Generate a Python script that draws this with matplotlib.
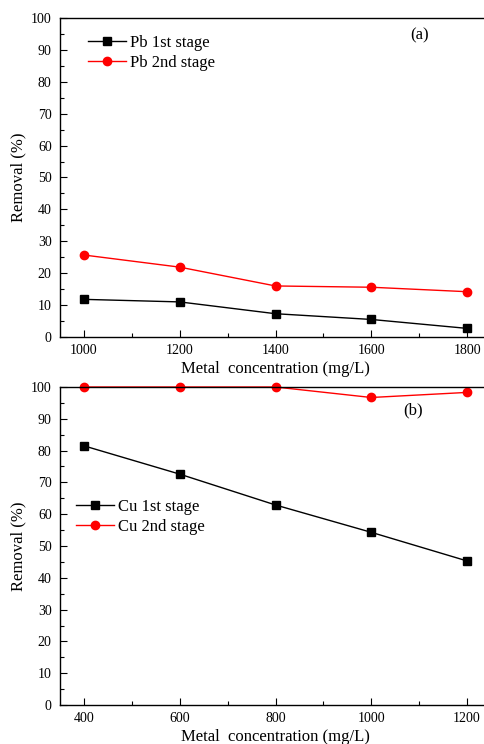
import matplotlib.pyplot as plt
from matplotlib.ticker import MultipleLocator

plt.rcParams['font.family'] = ['Liberation Serif', 'DejaVu Serif']

# panel (a) - Pb
pb_conc = [1000, 1200, 1400, 1600, 1800]
pb_stage1 = [11.8, 11.0, 7.3, 5.5, 2.7]
pb_stage2 = [25.7, 21.9, 16.0, 15.6, 14.2]

# panel (b) - Cu
cu_conc = [400, 600, 800, 1000, 1200]
cu_stage1 = [81.5, 72.6, 62.9, 54.3, 45.3]
cu_stage2 = [100.0, 100.0, 100.0, 96.7, 98.3]

W, H = 484, 744
fig = plt.figure(figsize=(W / 100, H / 100), dpi=100)

def px_axes(left, top, right, bottom):
    return fig.add_axes([left / W, 1 - bottom / H, (right - left) / W, (bottom - top) / H])

ax1 = px_axes(60, 18, 491, 337)
ax2 = px_axes(60, 387, 491, 705)

def style(ax, xlim, xmajor):
    ax.set_xlim(*xlim)
    ax.set_ylim(0, 100)
    ax.xaxis.set_major_locator(MultipleLocator(xmajor))
    ax.xaxis.set_minor_locator(MultipleLocator(xmajor / 2))
    ax.yaxis.set_major_locator(MultipleLocator(10))
    ax.yaxis.set_minor_locator(MultipleLocator(5))
    ax.tick_params(which='major', direction='in', length=5, width=0.8, labelsize=10)
    ax.tick_params(which='minor', direction='in', length=3, width=0.8)
    ax.tick_params(axis='x', pad=5)
    ax.tick_params(axis='y', pad=6)
    for s in ax.spines.values():
        s.set_linewidth(1.0)
    ax.set_xlabel('Metal  concentration (mg/L)', fontsize=12, labelpad=3)
    ax.set_ylabel('Removal (%)', fontsize=12)
    ax.yaxis.set_label_coords(-0.079, 0.5)

ax1.plot(pb_conc, pb_stage1, color='black', marker='s', markersize=5.5, lw=1, label='Pb 1st stage')
ax1.plot(pb_conc, pb_stage2, color='red', marker='o', markersize=6, lw=1, label='Pb 2nd stage')
style(ax1, (950, 1850), 200)
ax1.legend(loc='upper left', bbox_to_anchor=(28 / 431, 1 - 17 / 319), frameon=False, fontsize=12,
           handlelength=2.3, handletextpad=0.25, labelspacing=0.25, borderaxespad=0, borderpad=0)
ax1.text(420, H - 35, '(a)', transform=None, fontsize=12, ha='center', va='center')

ax2.plot(cu_conc, cu_stage1, color='black', marker='s', markersize=5.5, lw=1, label='Cu 1st stage', clip_on=False)
ax2.plot(cu_conc, cu_stage2, color='red', marker='o', markersize=6, lw=1, label='Cu 2nd stage', clip_on=False)
style(ax2, (350, 1250), 200)
ax2.legend(loc='upper left', bbox_to_anchor=(16 / 431, 1 - 112 / 318), frameon=False, fontsize=12,
           handlelength=2.3, handletextpad=0.25, labelspacing=0.25, borderaxespad=0, borderpad=0)
ax2.text(413, H - 410, '(b)', transform=None, fontsize=12, ha='center', va='center')

fig.savefig('out.png', dpi=100)
